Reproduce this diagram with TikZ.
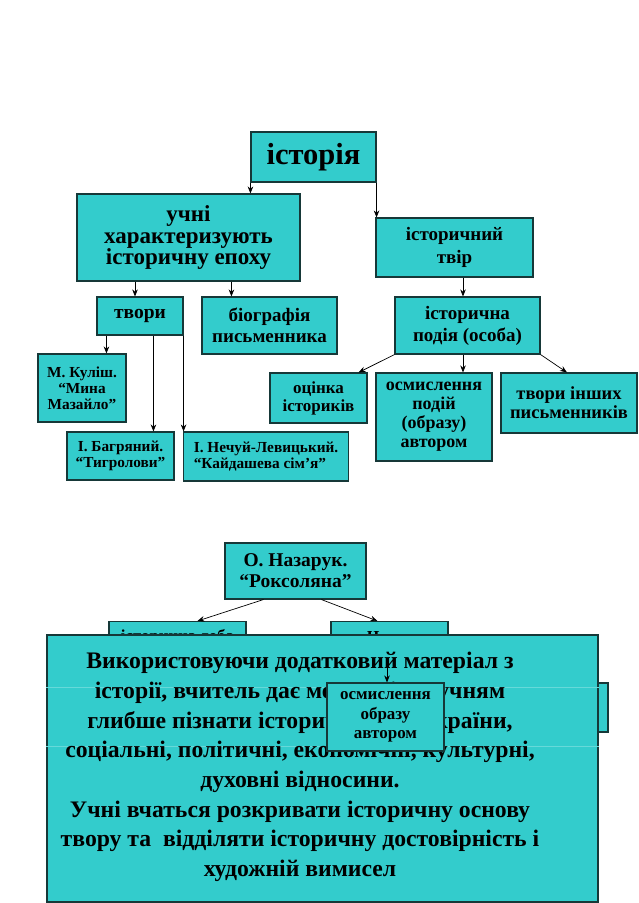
\documentclass[tikz,border=0pt]{standalone}
\usepackage{fontspec}
\setmainfont{Liberation Serif}
\usetikzlibrary{arrows.meta,calc}
\definecolor{boxfill}{HTML}{33CCCC}
\definecolor{boxline}{HTML}{163838}
\definecolor{ghost}{HTML}{66D9D9}
\newcommand\fsz[2]{\fontsize{#1}{#2}\selectfont\bfseries}
\begin{document}
\begin{tikzpicture}[x=1pt,y=-1pt,
  box/.style={draw=boxline, fill=boxfill, line width=1.1pt, inner sep=0pt, align=center},
  arr/.style={-{Stealth[length=7pt,width=5.5pt]}, line width=0.7pt, black},
  ghostline/.style={draw=ghost, line width=0.6pt}]
\useasboundingbox (0,0) rectangle (638,903);
% top tree
\node[box, minimum width=125, minimum height=50, font=\fsz{30.5}{31}] (hist) at (313.5,157) {історія};
\node[box, minimum width=223, minimum height=87, font=\fsz{23}{21.5}] (uchni) at (188.5,237.5) {учні\\характеризують\\історичну епоху};
\node[box, minimum width=157, minimum height=59, font=\fsz{19}{23}] (tvir) at (454.5,247.5) {історичний\\твір};
\node[box, minimum width=86, minimum height=38, font=\fsz{19.5}{21}] (tvory) at (140,316) {твори};
\node[box, minimum width=135, minimum height=57, font=\fsz{19}{21}] (bio) at (269.5,325.5) {біографія\\письменника};
\node[box, minimum width=88, minimum height=68, font=\fsz{15.3}{16}] (kulish) at (82,388) {М. Куліш.\\“Мина\\Мазайло”};
\node[box, minimum width=107, minimum height=48, font=\fsz{15.3}{16}] (bahr) at (120.5,456) {І. Багряний.\\“Тигролови”};
\node[box, minimum width=165, minimum height=49, align=left, inner xsep=9pt, anchor=west, font=\fsz{15.3}{16}] (nechuy) at (183,456.5) {І. Нечуй-Левицький.\\“Кайдашева сім’я”\hfill\mbox{}};
\node[box, minimum width=145, minimum height=57, font=\fsz{19}{22}] (podia) at (467.5,325.5) {історична\\подія (особа)};
\node[box, minimum width=97, minimum height=50, font=\fsz{17}{18}] (otsinka) at (318.5,398) {оцінка\\істориків};
\node[box, minimum width=116, minimum height=88, font=\fsz{18}{19}] (osm) at (434,417) {осмислення\\подій\\(образу)\\автором};
\node[box, minimum width=136, minimum height=60, font=\fsz{18.5}{19}] (inshi) at (569,403) {твори інших\\письменників};
% connectors top
\draw[arr] (hist.south west) -- (hist.south west |- uchni.north);
\draw[arr] (hist.south east) -- (hist.south east |- tvir.north);
\coordinate (tvIn) at ($(tvory.north)+(-5,0)$);
\draw[arr] (uchni.south -| tvIn) -- (tvIn);
\coordinate (bioIn) at ($(bio.north west)+(30,0)$);
\draw[arr] (uchni.south -| bioIn) -- (bioIn);
\coordinate (podIn) at ($(podia.north)+(-4.5,0)$);
\draw[arr] (tvir.south -| podIn) -- (podIn);
\coordinate (kuIn) at ($(kulish.north west)+(69,0)$);
\draw[arr] (tvory.south -| kuIn) -- (kuIn);
\coordinate (baIn) at ($(bahr.north west)+(87,0)$);
\draw[arr] (tvory.south -| baIn) -- (baIn);
\draw[arr] (tvory.south east) -- (tvory.south east |- nechuy.north);
\draw[arr] (podia.south west) -- ($(otsinka.north east)+(-9,0)$);
\draw[arr] (podia.south -| podIn) -- (osm.north -| podIn);
\draw[arr] (podia.south east) -- ($(inshi.north)+(-2,0)$);
% lower part
\node[box, minimum width=141, minimum height=56, font=\fsz{19.5}{21}] (naz) at (295.5,571) {О. Назарук.\\“Роксоляна”};
\node[box, anchor=north, minimum width=137, text height=20pt, text depth=30pt, font=\fsz{16.8}{20}] (doba) at (177.5,621) {історична доба};
\node[box, anchor=north, minimum width=117, text height=21pt, text depth=29pt, font=\fsz{16.8}{20}] (chest) at (389.5,621) {Честь};
\node[box, minimum width=108, minimum height=49] (hid) at (554,707.5) {};
\draw[arr] ($(naz.south west)+(39,0)$) -- ($(doba.north west)+(89,0)$);
\draw[arr] ($(naz.south west)+(97,0)$) -- ($(chest.north west)+(47,0)$);
\node[box, minimum width=551, minimum height=267] (big) at (322.5,768.5) {};
\draw[ghostline] (big.west |- 0,687) -- (big.east |- 0,687);
\draw[ghostline] (big.west |- 0,746) -- (big.east |- 0,746);
\node[align=center, inner sep=0pt, font=\fsz{23.7}{29.7}] (bigtext) at (300,767) {Використовуючи додатковий матеріал з\\історії, вчитель дає можливість учням\\глибше пізнати історичну епоху країни,\\соціальні, політичні, економічні, культурні,\\духовні відносини.\\Учні вчаться розкривати історичну основу\\твору та\ \ відділяти історичну достовірність і\\художній вимисел};
\node[box, minimum width=117, minimum height=68, font=\fsz{17}{19.5}] (small) at (385.5,717) {осмислення\\образу\\автором};
\coordinate (smIn) at (387,663);
\draw[arr] (smIn) -- (small.north -| smIn);
\end{tikzpicture}
\end{document}
